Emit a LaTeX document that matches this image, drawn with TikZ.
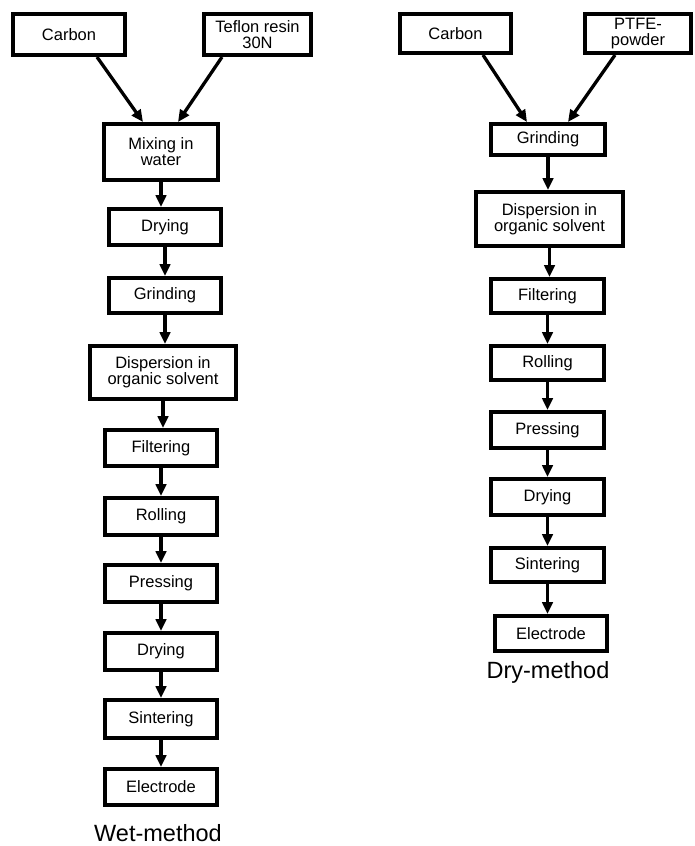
\documentclass[tikz,border=0pt]{standalone}
\usepackage{fontspec}
\setmainfont{Liberation Sans}
\usetikzlibrary{arrows.meta,calc}
\begin{document}
\begin{tikzpicture}[x=1pt,y=-1pt,
  box/.style={draw,line width=4pt,inner sep=0pt,align=center,
    font=\fontsize{16.5}{16}\selectfont},
  conn/.style={line width=3.3pt,-{Triangle[length=12pt,width=10.5pt]}},
  title/.style={font=\fontsize{23.5}{23.5}\selectfont}]
\useasboundingbox (0,0) rectangle (695,846);
% left column: wet method
\node[box,minimum width=112pt,minimum height=41pt] (cL) at (69,34.5) {Carbon};
\node[box,minimum width=107pt,minimum height=41pt] (tef) at (257.5,34.5) {Teflon resin\\30N};
\node[box,minimum width=114pt,minimum height=56pt] (mix) at (161,152) {Mixing in\\water};
\node[box,minimum width=112pt,minimum height=36pt] (dry1) at (165,227) {Drying};
\node[box,minimum width=112pt,minimum height=35pt] (grL) at (165,295.5) {Grinding};
\node[box,minimum width=146pt,minimum height=53pt] (disL) at (163,372.5) {Dispersion in\\organic solvent};
\node[box,minimum width=112pt,minimum height=36pt] (filL) at (161,448) {Filtering};
\node[box,minimum width=112pt,minimum height=37pt] (rolL) at (161,516.5) {Rolling};
\node[box,minimum width=112pt,minimum height=37pt] (preL) at (161,583.5) {Pressing};
\node[box,minimum width=112pt,minimum height=37pt] (dry2) at (161,651.5) {Drying};
\node[box,minimum width=112pt,minimum height=38pt] (sinL) at (161,719) {Sintering};
\node[box,minimum width=112pt,minimum height=36pt] (eleL) at (161,787) {Electrode};
\node[title] (wet) at (158,833) {Wet-method};
% right column: dry method
\node[box,minimum width=111pt,minimum height=39pt] (cR) at (455.5,33.5) {Carbon};
\node[box,minimum width=106pt,minimum height=39pt] (ptfe) at (638,33.5) {PTFE-\\powder};
\node[box,minimum width=114pt,minimum height=31pt] (grR) at (548,139.5) {Grinding};
\node[box,minimum width=147pt,minimum height=54pt] (disR) at (549.5,219) {Dispersion in\\organic solvent};
\node[box,minimum width=113pt,minimum height=34pt] (filR) at (547.5,296) {Filtering};
\node[box,minimum width=113pt,minimum height=34pt] (rolR) at (547.5,363) {Rolling};
\node[box,minimum width=113pt,minimum height=36pt] (preR) at (547.5,430) {Pressing};
\node[box,minimum width=113pt,minimum height=36pt] (dryR) at (547.5,497) {Drying};
\node[box,minimum width=113pt,minimum height=34pt] (sinR) at (547.5,565) {Sintering};
\node[box,minimum width=112pt,minimum height=35pt] (eleR) at (551,633.5) {Electrode};
\node[title] (drym) at (548,672) {Dry-method};
% connectors left
\draw[conn] ($(cL.south)+(28,0)$) -- ($(mix.north)+(-18,0)$);
\draw[conn] ($(tef.south)+(-35.5,0)$) -- ($(mix.north)+(17,0)$);
\draw[conn] (mix.south) -- (mix.south |- dry1.north);
\draw[conn] (dry1.south) -- (dry1.south |- grL.north);
\draw[conn] (grL.south) -- (grL.south |- disL.north);
\draw[conn] (disL.south) -- (disL.south |- filL.north);
\draw[conn] (filL.south) -- (filL.south |- rolL.north);
\draw[conn] (rolL.south) -- (rolL.south |- preL.north);
\draw[conn] (preL.south) -- (preL.south |- dry2.north);
\draw[conn] (dry2.south) -- (dry2.south |- sinL.north);
\draw[conn] (sinL.south) -- (sinL.south |- eleL.north);
% connectors right
\draw[conn] ($(cR.south)+(27.5,0)$) -- ($(grR.north)+(-21,0)$);
\draw[conn] ($(ptfe.south)+(-23,0)$) -- ($(grR.north)+(20,0)$);
\draw[conn] (grR.south) -- (grR.south |- disR.north);
\draw[conn] (disR.south) -- (disR.south |- filR.north);
\draw[conn] (filR.south) -- (filR.south |- rolR.north);
\draw[conn] (rolR.south) -- (rolR.south |- preR.north);
\draw[conn] (preR.south) -- (preR.south |- dryR.north);
\draw[conn] (dryR.south) -- (dryR.south |- sinR.north);
\draw[conn] (sinR.south) -- (sinR.south |- eleR.north);
\end{tikzpicture}
\end{document}
